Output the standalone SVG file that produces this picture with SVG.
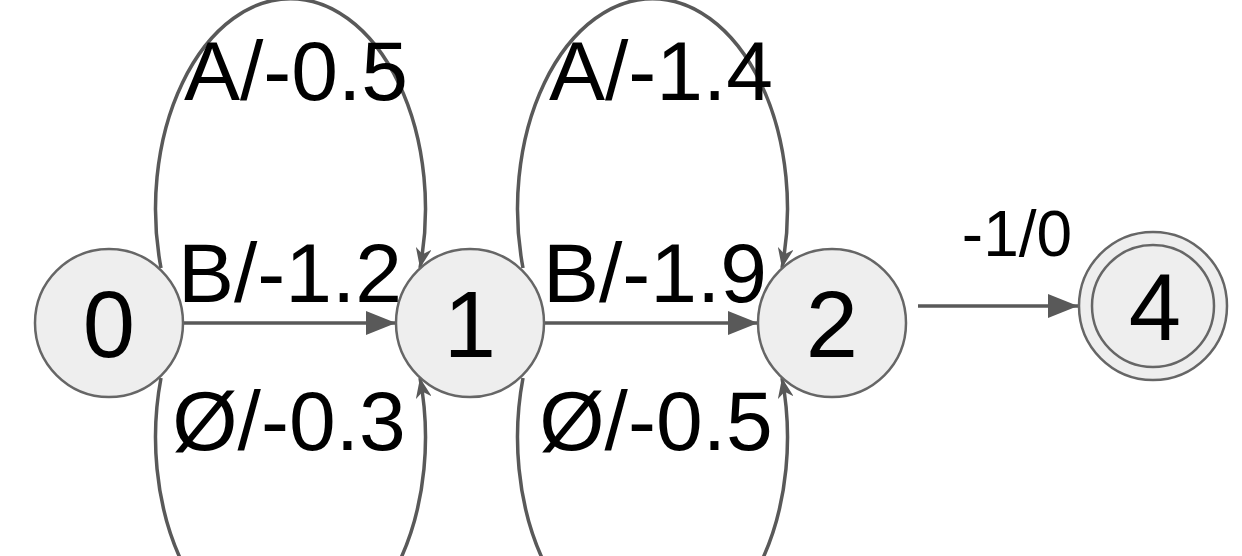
<svg xmlns="http://www.w3.org/2000/svg" width="1242" height="556" viewBox="0 0 1242 556">
<style>
.n{fill:#eeeeee;stroke:#666;stroke-width:2.5}
.e{fill:none;stroke:#595959;stroke-width:3.5}
text{font-family:"Liberation Sans",Arial,sans-serif;fill:#000}
.l{font-size:84px;text-anchor:middle}
.d{font-size:94px;text-anchor:middle}
</style>
<defs>
<marker id="b" viewBox="0 0 30 24" refX="30" refY="12" markerWidth="30" markerHeight="24" markerUnits="userSpaceOnUse" orient="auto"><path d="M0,0 L30,12 L0,24 z" fill="#595959"/></marker>
<marker id="c" viewBox="0 0 20 16" refX="20" refY="8" markerWidth="20" markerHeight="16" markerUnits="userSpaceOnUse" orient="auto"><path d="M0,0 L20,8 L0,16 L6,8 z" fill="#595959"/></marker></defs>
<g id="connectors">
<path class="e" d="M161,268 A135,210 0 1 1 420,268" marker-end="url(#c)"/>
<path class="e" d="M183,323 L396,323" marker-end="url(#b)"/>
<path class="e" d="M161,378 A135,210 0 1 0 420,378" marker-end="url(#c)"/>
<path class="e" d="M523,268 A135,210 0 1 1 782,268" marker-end="url(#c)"/>
<path class="e" d="M545,323 L758,323" marker-end="url(#b)"/>
<path class="e" d="M523,378 A135,210 0 1 0 782,378" marker-end="url(#c)"/>
<path class="e" d="M918,306 L1078,306" marker-end="url(#b)"/>
</g>
<g id="n0"><circle class="n" cx="109" cy="323" r="74"/><text class="d" x="109" y="357">0</text></g>
<g id="n1"><circle class="n" cx="470" cy="323" r="74"/><text class="d" x="470" y="357">1</text></g>
<g id="n2"><circle class="n" cx="832" cy="323" r="74"/><text class="d" x="832" y="357">2</text></g>
<g id="n4"><circle class="n" cx="1153" cy="306" r="74"/><circle class="n" cx="1153" cy="306" r="61"/><text class="d" x="1155" y="340">4</text></g>
<g id="labels">
<text class="l" x="296" y="100">A/-0.5</text>
<text class="l" x="290" y="302">B/-1.2</text>
<text class="l" x="289" y="450">Ø/-0.3</text>
<text class="l" x="661" y="100">A/-1.4</text>
<text class="l" x="655" y="302">B/-1.9</text>
<text class="l" x="656" y="450">Ø/-0.5</text>
<text x="1017" y="256" style="font-size:64px;text-anchor:middle">-1/0</text>
</g>
</svg>
